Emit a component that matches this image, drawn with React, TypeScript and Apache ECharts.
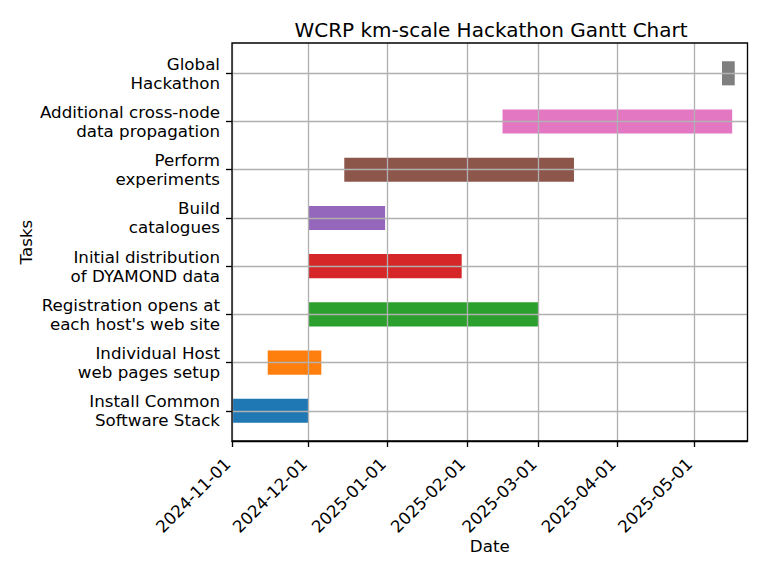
import React, { useEffect, useRef } from "react";
import * as echarts from "echarts";

const tasks = [
  "Install Common\nSoftware Stack",
  "Individual Host\nweb pages setup",
  "Registration opens at\neach host's web site",
  "Initial distribution\nof DYAMOND data",
  "Build\ncatalogues",
  "Perform\nexperiments",
  "Additional cross-node\ndata propagation",
  "Global\nHackathon",
];
const startDates = [
  "2024-11-01",
  "2024-11-15",
  "2024-12-01",
  "2024-12-01",
  "2024-12-01",
  "2024-12-15",
  "2025-02-15",
  "2025-05-12",
];
const endDates = [
  "2024-12-01",
  "2024-12-06",
  "2025-03-01",
  "2025-01-30",
  "2024-12-31",
  "2025-03-15",
  "2025-05-16",
  "2025-05-17",
];
const barColors = [
  "#1f77b4",
  "#ff7f0e",
  "#2ca02c",
  "#d62728",
  "#9467bd",
  "#8c564b",
  "#e377c2",
  "#7f7f7f",
];
const tickDates = [
  "2024-11-01",
  "2024-12-01",
  "2025-01-01",
  "2025-02-01",
  "2025-03-01",
  "2025-04-01",
  "2025-05-01",
];
const axisMin = "2024-11-01";
const axisMax = "2025-05-22";

const ts = (s: string) => {
  const [y, m, d] = s.split("-").map(Number);
  return Date.UTC(y, m - 1, d);
};
const fmt = (v: number) => new Date(v).toISOString().slice(0, 10);

const FONT = "DejaVu Sans";

export default function App() {
  const ref = useRef<HTMLDivElement>(null);
  useEffect(() => {
    if (!ref.current) return;
    const chart = echarts.init(ref.current, null, { renderer: "svg" });
    const ticks = tickDates.map(ts);
    const data = tasks.map((_, i) => [i, ts(startDates[i]), ts(endDates[i])]);
    chart.setOption({
      animation: false,
      backgroundColor: "#ffffff",
      textStyle: { fontFamily: FONT },
      title: {
        text: "WCRP km-scale Hackathon Gantt Chart",
        left: 486,
        top: 15,
        textAlign: "center",
        textStyle: { fontFamily: FONT, fontSize: 20, fontWeight: "normal", color: "#000" },
      },
      grid: [
        {
          left: 232,
          top: 43,
          width: 515.5,
          height: 398,
          show: true,
          borderColor: "#000",
          borderWidth: 1.33,
          backgroundColor: "transparent",
          z: 4,
        },
        { left: 232, top: 73.3, width: 515.5, height: 337.5 },
      ],
      xAxis: [
        {
          type: "value",
          gridIndex: 0,
          min: ts(axisMin),
          max: ts(axisMax),
          z: 3,
          name: "Date",
          nameLocation: "middle",
          nameGap: 96,
          nameMoveOverlap: false,
          nameTextStyle: { fontFamily: FONT, fontSize: 16.7, color: "#000" },
          axisLine: { show: true, onZero: false, lineStyle: { color: "#000", width: 1.33 } },
          axisTick: {
            show: true,
            length: 6,
            customValues: ticks,
            lineStyle: { color: "#000", width: 1.33 },
          },
          axisLabel: {
            customValues: ticks,
            rotate: 45,
            margin: 16,
            padding: [0, 6, 0, 0],
            formatter: (v: number) => fmt(v),
            fontFamily: FONT,
            fontSize: 16.7,
            color: "#000",
          },
          splitLine: { show: true, lineStyle: { color: "#b0b0b0", width: 1.33 } },
        },
        {
          type: "value",
          gridIndex: 1,
          min: ts(axisMin),
          max: ts(axisMax),
          show: false,
          splitLine: { show: false },
        },
      ],
      yAxis: [
        {
          type: "value",
          gridIndex: 0,
          show: false,
          splitLine: { show: false },
        },
        {
          type: "category",
          gridIndex: 1,
          data: tasks,
          boundaryGap: false,
          z: 3,
          name: "Tasks",
          nameLocation: "middle",
          nameRotate: 90,
          nameGap: 198,
          nameMoveOverlap: false,
          nameTextStyle: { fontFamily: FONT, fontSize: 16.7, color: "#000" },
          axisLine: { show: false },
          axisTick: { show: true, length: 6, lineStyle: { color: "#000", width: 1.33 } },
          axisLabel: {
            margin: 12,
            fontFamily: FONT,
            fontSize: 16.7,
            lineHeight: 19,
            padding: [8, 0, 0, 0],
            color: "#000",
            align: "right",
          },
          splitLine: { show: true, lineStyle: { color: "#b0b0b0", width: 1.33 } },
        },
      ],
      series: [
        {
          type: "custom",
          xAxisIndex: 1,
          yAxisIndex: 1,
          z: 1,
          encode: { x: [1, 2], y: 0 },
          data,
          renderItem: (params: any, api: any) => {
            const cat = api.value(0);
            const s = api.coord([api.value(1), cat]);
            const e = api.coord([api.value(2), cat]);
            const h = api.size([0, 1])[1] * 0.5;
            return {
              type: "rect",
              shape: { x: s[0], y: s[1] - h / 2, width: e[0] - s[0], height: h },
              style: { fill: barColors[params.dataIndex] },
            };
          },
        },
      ],
    });
    return () => chart.dispose();
  }, []);
  return <div ref={ref} style={{ width: 768, height: 576, margin: -8 }} />;
}
